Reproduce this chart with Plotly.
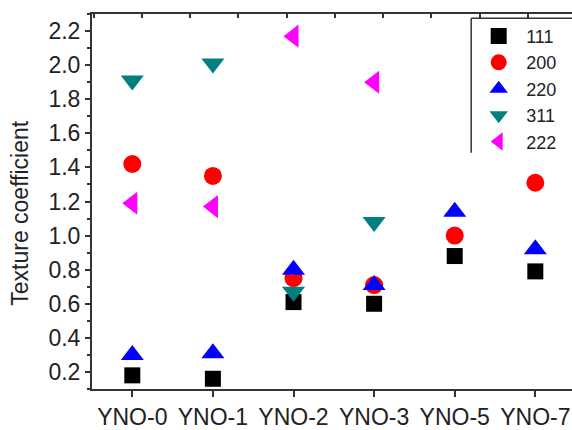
import plotly.graph_objects as go

categories = ["YNO-0", "YNO-1", "YNO-2", "YNO-3", "YNO-5", "YNO-7"]
tc_111 = [0.18, 0.16, 0.61, 0.60, 0.88, 0.79]
tc_200 = [1.42, 1.35, 0.75, 0.71, 1.00, 1.31]
tc_220 = [0.30, 0.31, 0.80, 0.71, 1.14, 0.92]
tc_311 = [1.91, 2.01, 0.67, 1.08, None, None]
tc_222 = [1.19, 1.17, 2.17, 1.90, None, None]

series = [
    ("111", tc_111, "square", "#000000", 16),
    ("200", tc_200, "circle", "#FF0000", 18),
    ("220", tc_220, "triangle-up", "#0000FF", 20),
    ("311", tc_311, "triangle-down", "#008080", 20),
    ("222", tc_222, "triangle-left", "#FF00FF", 20),
]

xidx = list(range(len(categories)))

fig = go.Figure()
for name, vals, sym, col, sz in series:
    fig.add_trace(go.Scatter(
        x=xidx, y=vals, mode="markers", name=name,
        marker=dict(symbol=sym, color=col, size=sz, line=dict(width=0)),
    ))

# invisible trace to anchor top axis
fig.add_trace(go.Scatter(x=[0], y=[None], xaxis="x2", showlegend=False,
                         hoverinfo="skip", mode="markers"))

axcol = "#333333"
txtcol = "#222222"
fig.update_layout(
    width=572, height=430,
    margin=dict(l=92, r=0, t=14, b=30),
    paper_bgcolor="white", plot_bgcolor="white",
    font=dict(family="Arial", color=txtcol),
    showlegend=True,
    legend=dict(
        x=0.79, y=0.99, xanchor="left", yanchor="top",
        bgcolor="rgba(255,255,255,0)", borderwidth=0,
        font=dict(size=18, family="Arial", color=txtcol),
        tracegroupgap=0, itemsizing="trace", itemwidth=45,
    ),
    xaxis=dict(
        range=[-0.5, 5.455],
        tickmode="array", tickvals=xidx, ticktext=categories,
        showgrid=False, zeroline=False,
        showline=True, linecolor=axcol, linewidth=2,
        ticks="outside", ticklen=6, tickwidth=1.5, tickcolor=axcol,
        tickfont=dict(size=23, family="Arial", color=txtcol),
    ),
    xaxis2=dict(
        overlaying="x", side="top", anchor="y",
        range=[-0.036, 9.912], tickmode="linear", tick0=0, dtick=1,
        showticklabels=False, showgrid=False, zeroline=False,
        showline=True, linecolor=axcol, linewidth=2,
        ticks="inside", ticklen=4, tickwidth=1.5, tickcolor=axcol,
    ),
    yaxis=dict(
        range=[0.1, 2.3],
        tickmode="linear", tick0=0.2, dtick=0.2, tickformat=".1f",
        showgrid=False, zeroline=False,
        showline=True, linecolor=axcol, linewidth=2,
        ticks="outside", ticklen=5, tickwidth=1.5, tickcolor=axcol,
        minor=dict(ticks="outside", ticklen=3, tickwidth=1.5, tickcolor=axcol,
                   dtick=0.1, tick0=0.1, showgrid=False),
        tickfont=dict(size=23, family="Arial", color=txtcol),
    ),
    annotations=[
        dict(text="Texture coefficient", xref="paper", yref="paper",
             x=-0.15, y=0.47, xanchor="center", yanchor="middle",
             textangle=-90, showarrow=False,
             font=dict(size=23, family="Arial", color=txtcol)),
    ],
    shapes=[
        dict(type="line", xref="paper", yref="paper", x0=0.79, x1=0.79, y0=0.989, y1=0.63,
             line=dict(color=axcol, width=1.5)),
        dict(type="line", xref="paper", yref="paper", x0=0.79, x1=1.0, y0=0.989, y1=0.989,
             line=dict(color=axcol, width=1.5)),
    ],
)

fig.write_html("out.html")
